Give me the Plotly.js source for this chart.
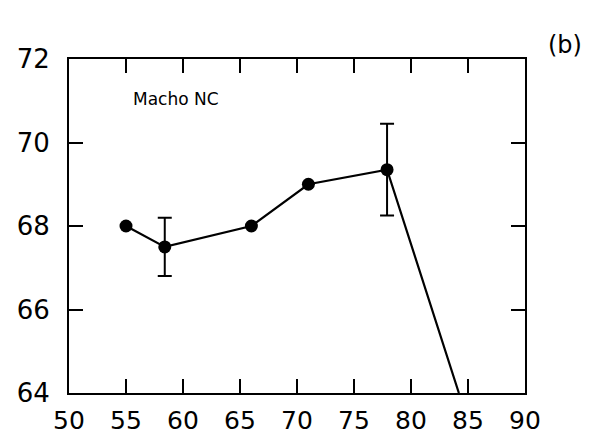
<!DOCTYPE html>
<html>
<head>
<meta charset="utf-8">
<script src="https://cdn.plot.ly/plotly-3.0.1.min.js"></script>
<style>
  html, body { margin: 0; padding: 0; background: #fff; }
  #chart { width: 603px; height: 438px; }
</style>
</head>
<body>
<div id="chart"></div>
<script>
// Macho NC series
const xVals = [55, 58.4, 66, 71, 77.9];
const yVals = [68.0, 67.5, 68.0, 69.0, 69.35];
const yErr = [0, 0.7, 0, 0, 1.1];
const showErr = [false, true, false, false, true];

// final segment of the curve, running down to the lower axis
const tailX = [77.9, 84.2];
const tailY = [69.35, 64.0];

const xTicks = [50, 55, 60, 65, 70, 75, 80, 85, 90];
const yTicks = [64, 66, 68, 70, 72];

const ink = '#000';
const font = "'DejaVu Sans', sans-serif";

const errX = xVals.filter((_, i) => showErr[i]);
const errY = yVals.filter((_, i) => showErr[i]);
const errV = yErr.filter((_, i) => showErr[i]);

const traces = [
  {
    x: xVals.concat(tailX.slice(1)),
    y: yVals.concat(tailY.slice(1)),
    mode: 'lines',
    line: { color: ink, width: 2.2 },
    hoverinfo: 'skip'
  },
  {
    x: errX,
    y: errY,
    mode: 'markers',
    marker: { size: 0.1, color: ink },
    error_y: { type: 'data', array: errV, visible: true, color: ink, thickness: 2, width: 7 },
    hoverinfo: 'skip'
  },
  {
    x: xVals,
    y: yVals,
    mode: 'markers',
    marker: { size: 13, color: ink },
    hoverinfo: 'skip'
  }
];

const axisBase = {
  showgrid: false,
  zeroline: false,
  showline: true,
  linecolor: ink,
  linewidth: 2,
  mirror: 'ticks',
  ticks: 'inside',
  ticklen: 14,
  tickwidth: 2,
  tickcolor: ink,
  tickfont: { family: font, size: 26, color: ink },
  tickmode: 'array'
};

const layout = {
  width: 603,
  height: 438,
  margin: { l: 69, r: 78, t: 59, b: 45 },
  paper_bgcolor: '#fff',
  plot_bgcolor: '#fff',
  showlegend: false,
  xaxis: Object.assign({}, axisBase, {
    range: [50, 90],
    tickvals: xTicks,
    ticktext: xTicks.map(String),
    tickfont: { family: font, size: 25, color: ink },
    ticklabelstandoff: 4
  }),
  yaxis: Object.assign({}, axisBase, {
    range: [64, 72],
    tickvals: yTicks,
    ticktext: yTicks.map(String),
    ticklabelstandoff: 12
  }),
  annotations: [
    {
      text: 'Macho NC',
      xref: 'paper', yref: 'paper',
      x: 0.135, y: 0.88,
      xanchor: 'left', yanchor: 'middle',
      showarrow: false,
      font: { family: font, size: 17, color: ink }
    },
    {
      text: '(b)',
      xref: 'paper', yref: 'paper',
      x: 1.088, y: 1.042,
      xanchor: 'center', yanchor: 'middle',
      showarrow: false,
      font: { family: font, size: 24, color: ink }
    }
  ]
};

Plotly.newPlot('chart', traces, layout, { staticPlot: true, displayModeBar: false });
</script>
</body>
</html>
